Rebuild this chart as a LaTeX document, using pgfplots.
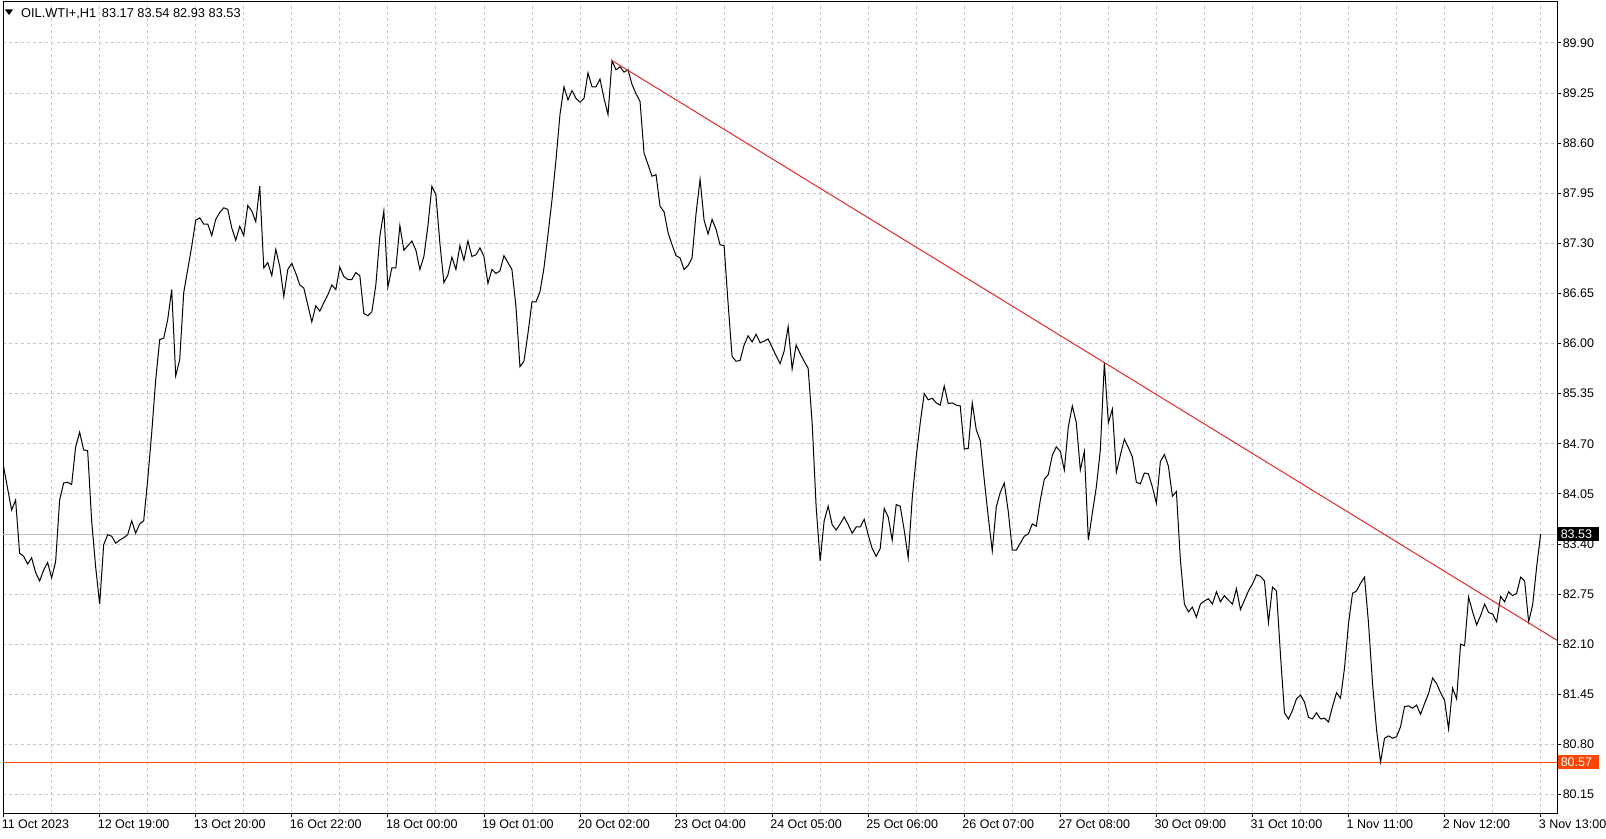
\documentclass[border=0pt]{standalone}
\usepackage{pgfplots}
\usepackage{pgfplotstable}
\pgfplotsset{compat=1.18}
\usepackage{fontspec}
\setmainfont{Liberation Sans}
\definecolor{gridc}{RGB}{200,200,200}
\definecolor{trend}{RGB}{226,40,40}
\definecolor{orangered}{RGB}{255,69,0}
\definecolor{bidc}{RGB}{190,190,190}

\pgfplotstableread{
bar price
0 84.40
1 84.12
2 83.84
3 83.97
4 83.28
5 83.24
6 83.14
7 83.22
8 83.03
9 82.92
10 83.06
11 83.16
12 82.96
13 83.17
14 83.97
15 84.19
16 84.20
17 84.17
18 84.66
19 84.85
20 84.62
21 84.61
22 83.70
23 83.10
24 82.62
25 83.39
26 83.52
27 83.50
28 83.41
29 83.45
30 83.48
31 83.52
32 83.70
33 83.54
34 83.66
35 83.70
36 84.23
37 84.84
38 85.53
39 86.05
40 86.07
41 86.31
42 86.70
43 85.58
44 85.79
45 86.66
46 86.96
47 87.26
48 87.60
49 87.63
50 87.55
51 87.55
52 87.40
53 87.61
54 87.70
55 87.76
56 87.74
57 87.50
58 87.34
59 87.52
60 87.40
61 87.79
62 87.72
63 87.58
64 88.04
65 86.98
66 87.05
67 86.88
68 87.22
69 87.00
70 86.61
71 86.96
72 87.04
73 86.91
74 86.76
75 86.72
76 86.50
77 86.28
78 86.49
79 86.42
80 86.53
81 86.63
82 86.76
83 86.70
84 86.99
85 86.87
86 86.83
87 86.83
88 86.92
89 86.88
90 86.39
91 86.36
92 86.41
93 86.76
94 87.39
95 87.72
96 86.73
97 86.98
98 86.98
99 87.53
100 87.21
101 87.27
102 87.33
103 87.21
104 86.96
105 87.13
106 87.52
107 88.04
108 87.93
109 87.30
110 86.79
111 86.89
112 87.12
113 86.96
114 87.27
115 87.08
116 87.33
117 87.13
118 87.15
119 87.24
120 87.13
121 86.78
122 86.96
123 86.91
124 86.94
125 87.14
126 87.05
127 86.96
128 86.48
129 85.70
130 85.77
131 86.13
132 86.54
133 86.54
134 86.67
135 86.98
136 87.41
137 87.86
138 88.38
139 88.97
140 89.33
141 89.16
142 89.28
143 89.18
144 89.13
145 89.18
146 89.51
147 89.33
148 89.33
149 89.43
150 89.18
151 88.97
152 89.67
153 89.55
154 89.59
155 89.52
156 89.55
157 89.36
158 89.24
159 89.14
160 88.47
161 88.32
162 88.17
163 88.19
164 87.78
165 87.71
166 87.44
167 87.28
168 87.14
169 87.11
170 86.96
171 87.01
172 87.11
173 87.69
174 88.13
175 87.60
176 87.42
177 87.61
178 87.48
179 87.28
180 87.27
181 86.52
182 85.83
183 85.77
184 85.78
185 85.98
186 86.10
187 86.02
188 86.12
189 86.01
190 86.03
191 86.06
192 85.95
193 85.84
194 85.74
195 85.90
196 86.22
197 85.67
198 85.98
199 85.87
200 85.77
201 85.68
202 84.97
203 83.88
204 83.18
205 83.70
206 83.89
207 83.65
208 83.58
209 83.66
210 83.75
211 83.65
212 83.54
213 83.62
214 83.62
215 83.72
216 83.52
217 83.34
218 83.24
219 83.34
220 83.86
221 83.75
222 83.45
223 83.91
224 83.89
225 83.58
226 83.22
227 83.99
228 84.53
229 84.97
230 85.35
231 85.27
232 85.29
233 85.23
234 85.20
235 85.45
236 85.22
237 85.23
238 85.20
239 85.19
240 84.63
241 84.64
242 85.23
243 84.88
244 84.74
245 84.23
246 83.75
247 83.31
248 83.88
249 84.07
250 84.19
251 83.82
252 83.32
253 83.32
254 83.41
255 83.50
256 83.53
257 83.66
258 83.63
259 83.97
260 84.24
261 84.30
262 84.55
263 84.66
264 84.60
265 84.36
266 84.92
267 85.19
268 84.97
269 84.36
270 84.60
271 83.45
272 83.80
273 84.14
274 84.62
275 85.75
276 84.97
277 85.15
278 84.33
279 84.55
280 84.76
281 84.65
282 84.53
283 84.20
284 84.18
285 84.32
286 84.31
287 84.14
288 83.93
289 84.47
290 84.56
291 84.41
292 84.02
293 84.08
294 83.19
295 82.62
296 82.52
297 82.58
298 82.45
299 82.62
300 82.66
301 82.69
302 82.62
303 82.78
304 82.65
305 82.73
306 82.67
307 82.62
308 82.82
309 82.55
310 82.67
311 82.79
312 82.88
313 83.00
314 82.98
315 82.92
316 82.38
317 82.84
318 82.79
319 81.96
320 81.21
321 81.13
322 81.24
323 81.39
324 81.44
325 81.35
326 81.15
327 81.13
328 81.21
329 81.13
330 81.14
331 81.09
332 81.29
333 81.47
334 81.40
335 81.79
336 82.37
337 82.76
338 82.79
339 82.89
340 82.97
341 82.37
342 81.59
343 80.99
344 80.57
345 80.88
346 80.91
347 80.88
348 80.90
349 81.03
350 81.29
351 81.30
352 81.27
353 81.31
354 81.19
355 81.33
356 81.46
357 81.66
358 81.59
359 81.47
360 81.37
361 81.00
362 81.53
363 81.39
364 82.10
365 82.08
366 82.71
367 82.52
368 82.35
369 82.47
370 82.62
371 82.51
372 82.49
373 82.39
374 82.72
375 82.65
376 82.78
377 82.73
378 82.76
379 82.97
380 82.92
381 82.39
382 82.61
383 83.10
384 83.53
}\pricedata

\begin{document}
\begin{tikzpicture}[x=1pt,y=1pt]
\path[use as bounding box] (0,0) rectangle (1606,838);
\begin{axis}[
  at={(3pt,25pt)}, anchor=south west,
  width=1554pt, height=811pt, scale only axis,
  xmin=-0.15, xmax=388.1, ymin=79.91, ymax=90.43,
  axis line style={black, line width=1pt},
  xtick={0,24,...,384},
  minor xtick={12,36,...,372},
  xticklabels={11 Oct 2023,12 Oct 19:00,13 Oct 20:00,16 Oct 22:00,18 Oct 00:00,19 Oct 01:00,20 Oct 02:00,23 Oct 04:00,24 Oct 05:00,25 Oct 06:00,26 Oct 07:00,27 Oct 08:00,30 Oct 09:00,31 Oct 10:00,1 Nov 11:00,2 Nov 12:00,3 Nov 13:00},
  ytick={80.15,80.80,81.45,82.10,82.75,83.40,84.05,84.70,85.35,86.00,86.65,87.30,87.95,88.60,89.25,89.90},
  yticklabels={{80.15},{80.80},{81.45},{82.10},{82.75},{83.40},{84.05},{84.70},{85.35},{86.00},{86.65},{87.30},{87.95},{88.60},{89.25},{89.90}},
  grid=both,
  major grid style={gridc, line width=0.8pt, dash pattern=on 3pt off 3pt},
  minor grid style={gridc, line width=0.8pt, dash pattern=on 3pt off 3pt},
  tick align=outside,
  major tick length=4pt,
  minor tick length=0pt,
  tick style={black, line width=0.8pt},
  xtick pos=bottom,
  ytick pos=right,
  yticklabel pos=right,
  tick label style={font=\fontsize{12.5}{14}\selectfont},
  xticklabel style={anchor=north west, inner sep=0pt, yshift=-3pt, xshift=-2pt},
  yticklabel style={anchor=west, inner sep=0pt, xshift=1.5pt},
]
\addplot[bidc, line width=0.8pt] coordinates {(-0.15,83.53) (388.1,83.53)};
\addplot[orangered, line width=1pt] coordinates {(-0.15,80.57) (388.1,80.57)};
\addplot[black, line width=1pt] table[x=bar, y=price] {\pricedata};
\addplot[trend, line width=1pt] coordinates {(152,89.67) (388.1,82.15)};
\coordinate (b1) at (axis cs:388.1,83.53);
\coordinate (b2) at (axis cs:388.1,80.57);
\end{axis}
\node[anchor=west, fill=black, text=white, inner xsep=3pt, inner ysep=0pt, minimum height=13.5pt, font=\fontsize{12.5}{14}\selectfont] at ([xshift=0.5pt]b1) {\makebox[35pt][l]{83.53}};
\node[anchor=west, fill=orangered, text=white, inner xsep=3pt, inner ysep=0pt, minimum height=13.5pt, font=\fontsize{12.5}{14}\selectfont] at ([xshift=0.5pt]b2) {\makebox[35pt][l]{80.57}};
\fill (5,828.5) -- (13,828.5) -- (9,823) -- cycle;
\node[anchor=base west, inner sep=0pt, font=\fontsize{12.8}{14}\selectfont] at (21,820.7) {OIL.WTI+,H1};
\node[anchor=base west, inner sep=0pt, font=\fontsize{12.8}{14}\selectfont] at (101.7,820.7) {83.17 83.54 82.93 83.53};
\end{tikzpicture}
\end{document}
